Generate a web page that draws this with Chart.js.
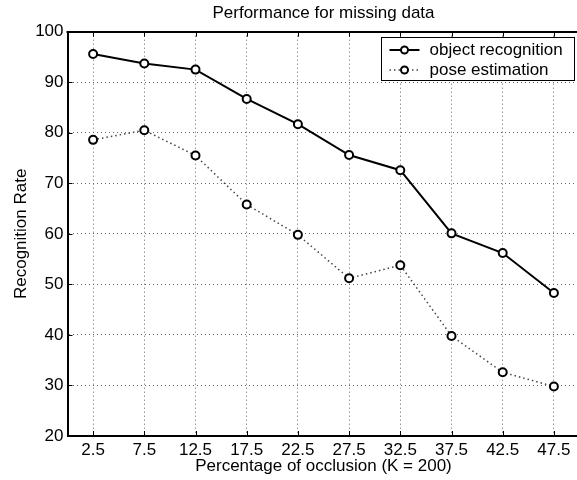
<!DOCTYPE html>
<html>
<head>
<meta charset="utf-8">
<title>Performance for missing data</title>
<script src="https://cdn.jsdelivr.net/npm/chart.js@4/dist/chart.umd.min.js"></script>
<style>
  html, body { margin: 0; padding: 0; background: #fff; overflow: hidden; }
  #wrap { width: 577px; height: 480px; overflow: hidden; }
  canvas { display: block; }
</style>
</head>
<body>
<div id="wrap"><canvas id="occlusionChart" width="590" height="480"></canvas></div>
<script>
// percentage of occlusion (K = 200)
const occlusion = ['2.5', '7.5', '12.5', '17.5', '22.5', '27.5', '32.5', '37.5', '42.5', '47.5'];
const objectRecognition = [95.6, 93.7, 92.5, 86.7, 81.7, 75.6, 72.6, 60.1, 56.2, 48.3];
const poseEstimation = [78.6, 80.5, 75.5, 65.8, 59.8, 51.2, 53.8, 39.8, 32.6, 29.8];
const rateTicks = [20, 30, 40, 50, 60, 70, 80, 90, 100];

const FONT = '"Liberation Sans", Arial, Helvetica, sans-serif';
const FONT_SIZE = 17;
Chart.defaults.font.family = FONT;
Chart.defaults.font.size = FONT_SIZE;
Chart.defaults.color = '#000';

// top border + inward tick marks, like a boxed axes
const axesFrame = {
    id: 'axesFrame',
    beforeDatasetsDraw(chart) {
        const { ctx, chartArea: area, scales } = chart;
        ctx.save();
        ctx.strokeStyle = '#000';
        ctx.lineWidth = 1;
        ctx.beginPath();
        scales.x.ticks.forEach((t, i) => {
            const px = Math.round(scales.x.getPixelForTick(i)) + 0.5;
            ctx.moveTo(px, area.bottom);
            ctx.lineTo(px, area.bottom - 5);
            ctx.moveTo(px, area.top);
            ctx.lineTo(px, area.top + 5);
        });
        scales.y.ticks.forEach((t, i) => {
            const py = Math.round(scales.y.getPixelForTick(i)) + 0.5;
            ctx.moveTo(area.left, py);
            ctx.lineTo(area.left + 5, py);
        });
        ctx.stroke();
        ctx.lineWidth = 2;
        ctx.beginPath();
        ctx.moveTo(area.left - 1, Math.round(area.top));
        ctx.lineTo(area.right, Math.round(area.top));
        ctx.stroke();
        ctx.restore();
    }
};

// boxed legend in the upper right corner
const boxLegend = {
    id: 'boxLegend',
    afterDraw(chart) {
        const { ctx, chartArea: area } = chart;
        const sets = chart.data.datasets;
        ctx.save();
        ctx.font = FONT_SIZE + 'px ' + FONT;
        const textW = Math.max(...sets.map(d => ctx.measureText(d.label).width));
        const w = Math.round(textW + 60);
        const h = 43;
        const right = Math.round(area.right - 6) + 0.5;
        const top = Math.round(area.top + 5.5) + 0.5;
        const left = right - w;
        ctx.fillStyle = '#fff';
        ctx.fillRect(left, top, w, h);
        ctx.strokeStyle = '#000';
        ctx.lineWidth = 1;
        ctx.strokeRect(left, top, w, h);
        sets.forEach((d, i) => {
            const y = top + 12.5 + i * 20;
            ctx.setLineDash(d.borderDash || []);
            ctx.strokeStyle = d.borderColor;
            ctx.lineWidth = d.borderWidth;
            ctx.beginPath();
            ctx.moveTo(left + 8, y);
            ctx.lineTo(left + 38, y);
            ctx.stroke();
            ctx.setLineDash([]);
            ctx.beginPath();
            ctx.arc(left + 23, y, d.pointRadius - 0.5, 0, Math.PI * 2);
            ctx.fillStyle = d.pointBackgroundColor;
            ctx.fill();
            ctx.strokeStyle = d.pointBorderColor;
            ctx.lineWidth = d.pointBorderWidth;
            ctx.stroke();
            ctx.fillStyle = '#000';
            ctx.textBaseline = 'middle';
            ctx.textAlign = 'left';
            ctx.fillText(d.label, left + 48, y);
        });
        ctx.restore();
    }
};

const ctx = document.getElementById('occlusionChart').getContext('2d');
const occlusionChart = new Chart(ctx, {
    type: 'line',
    data: {
        labels: occlusion,
        datasets: [{
            label: 'object recognition',
            data: objectRecognition,
            borderColor: '#000',
            borderWidth: 2,
            pointRadius: 4,
            pointBorderWidth: 2,
            pointBorderColor: '#000',
            pointBackgroundColor: '#fff',
            tension: 0
        }, {
            label: 'pose estimation',
            data: poseEstimation,
            borderColor: '#444',
            borderWidth: 1.5,
            borderDash: [1.5, 3],
            pointRadius: 4,
            pointBorderWidth: 2,
            pointBorderColor: '#000',
            pointBackgroundColor: '#fff',
            tension: 0
        }]
    },
    options: {
        responsive: false,
        animation: false,
        layout: { padding: { right: 10.5 } },
        plugins: {
            legend: { display: false },
            tooltip: { enabled: false },
            title: {
                display: true,
                fullSize: false,
                text: 'Performance for missing data',
                color: '#000',
                font: { size: FONT_SIZE, weight: 'normal', lineHeight: 1 },
                padding: { top: 5, bottom: 9.7 }
            }
        },
        scales: {
            x: {
                offset: true,
                grid: { offset: false, color: '#666', lineWidth: 1, drawTicks: false },
                border: { color: '#000', width: 2, dash: [1, 3] },
                ticks: { color: '#000', padding: 5.5, maxRotation: 0, autoSkip: false, font: { lineHeight: 1 } },
                title: {
                    display: true,
                    text: 'Percentage of occlusion (K = 200)',
                    color: '#000',
                    font: { lineHeight: 1 },
                    padding: { top: 0, bottom: 4.8 }
                },
                afterFit: scale => { scale.height = 44; }
            },
            y: {
                min: rateTicks[0],
                max: rateTicks[rateTicks.length - 1],
                afterBuildTicks: axis => { axis.ticks = rateTicks.map(v => ({ value: v })); },
                grid: { color: '#666', lineWidth: 1, drawTicks: false },
                border: { color: '#000', width: 2, dash: [1, 3] },
                ticks: { color: '#000', padding: 4, font: { lineHeight: 1 } },
                title: {
                    display: true,
                    text: 'Recognition Rate',
                    color: '#000',
                    font: { lineHeight: 1 },
                    padding: { top: 13.2, bottom: 0 }
                },
                afterFit: scale => { scale.width = 67.5; }
            }
        }
    },
    plugins: [axesFrame, boxLegend]
});
</script>
</body>
</html>
